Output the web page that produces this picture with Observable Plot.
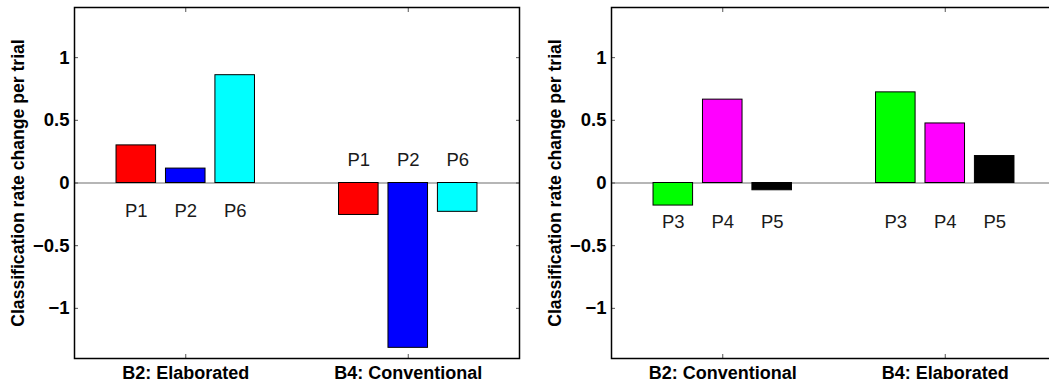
<!DOCTYPE html>
<html><head><meta charset="utf-8">
<script src="https://cdn.jsdelivr.net/npm/d3@7"></script>
<script src="https://cdn.jsdelivr.net/npm/@observablehq/plot@0.6"></script>
<style>
body{margin:0;background:#fff;}
#wrap{display:flex;width:1049px;height:385px;overflow:hidden;}
#wrap svg{flex:none;}
</style></head><body><div id="wrap"></div>
<script>
// Data
const participantsLeft = ["P1", "P2", "P6"];
const participantsRight = ["P3", "P4", "P5"];
const groupsLeft = ["B2: Elaborated", "B4: Conventional"];
const groupsRight = ["B2: Conventional", "B4: Elaborated"];
const valuesLeftB2 = [0.30, 0.115, 0.86];
const valuesLeftB4 = [-0.255, -1.315, -0.23];
const valuesRightB2 = [-0.18, 0.665, -0.058];
const valuesRightB4 = [0.723, 0.475, 0.215];
const colorsLeft = ["#ff0000", "#0000ff", "#00ffff"];
const colorsRight = ["#00ff00", "#ff00ff", "#000000"];
const labelYLeft = [-0.224, 0.18];
const labelYRight = [-0.31, -0.31];
const yTicks = [-1, -0.5, 0, 0.5, 1];
const yLabel = "Classification rate change per trial";

const FONT = "'Liberation Sans', Arial, Helvetica, sans-serif";
const fmtY = (d) => (d < 0 ? "\u2212" + Math.abs(d) : String(d));

function panel(groups, parts, vB2, vB4, colors, labelY) {
  const series = [vB2, vB4];
  const groupWidth = Math.min(0.8, parts.length / (parts.length + 1.5));
  const step = groupWidth / parts.length;
  const barW = step * 0.8;
  const rows = [];
  series.forEach((vals, g) => {
    vals.forEach((v, i) => {
      const c = g + 1 + (i - (parts.length - 1) / 2) * step;
      rows.push({c, x1: c - barW / 2, x2: c + barW / 2, value: v, color: colors[i], part: parts[i], ly: labelY[g]});
    });
  });
  return Plot.plot({
    width: 537,
    height: 385,
    marginLeft: 74,
    marginRight: 18,
    marginTop: 7,
    marginBottom: 27,
    style: {fontFamily: FONT, background: "white", overflow: "visible"},
    x: {domain: [0.5, 2.5], axis: null},
    y: {domain: [-1.4, 1.4], axis: null},
    color: {type: "identity"},
    marks: [
      Plot.ruleY([0], {stroke: "#6e6e6e", strokeWidth: 1.2}),
      Plot.rectY(rows, {x1: "x1", x2: "x2", y1: 0, y2: "value", fill: "color", stroke: "black", strokeWidth: 1}),
      Plot.text(rows, {x: "c", y: "ly", text: "part", fontSize: 18.5, fill: "#1a1a1a"}),
      Plot.axisY({anchor: "left", ticks: yTicks, tickSize: -4, tickPadding: 9, stroke: "#555", tickFormat: fmtY, fontSize: 18.5, fontWeight: "bold", fill: "black", label: null}),
      Plot.axisY({anchor: "right", ticks: yTicks, tickSize: -4, stroke: "#555", tickFormat: () => "", label: null}),
      Plot.axisX({anchor: "bottom", ticks: [1, 2], tickSize: -4, tickPadding: 12, stroke: "#555", tickFormat: (d) => groups[d - 1], fontSize: 18, fontWeight: "bold", fill: "black", label: null}),
      Plot.axisX({anchor: "top", ticks: [1, 2], tickSize: -4, stroke: "#555", tickFormat: () => "", label: null}),
      Plot.frame({stroke: "black", strokeWidth: 1.5}),
      Plot.text([yLabel], {frameAnchor: "left", textAnchor: "middle", rotate: -90, dx: -56, fontSize: 17.6, fontWeight: "bold", fill: "black"})
    ]
  });
}

const wrap = document.getElementById("wrap");
wrap.appendChild(panel(groupsLeft, participantsLeft, valuesLeftB2, valuesLeftB4, colorsLeft, labelYLeft));
wrap.appendChild(panel(groupsRight, participantsRight, valuesRightB2, valuesRightB4, colorsRight, labelYRight));
</script>
</body></html>
